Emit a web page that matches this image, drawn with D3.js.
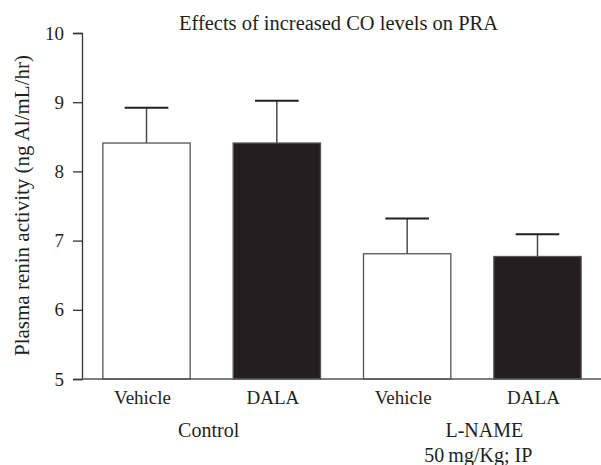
<!DOCTYPE html>
<html>
<head>
<meta charset="utf-8">
<script src="https://cdn.jsdelivr.net/npm/d3@7"></script>
<style>
  body { margin: 0; background: #fff; }
  text { font-family: "Liberation Serif", "Times New Roman", serif; fill: #231f20; }
</style>
</head>
<body>
<div id="chart"></div>
<script>
"use strict";

// data
var bars = ["ctrlVehicle", "ctrlDala", "lnameVehicle", "lnameDala"];
var barLabels = ["Vehicle", "DALA", "Vehicle", "DALA"];
var means = [8.41, 8.41, 6.81, 6.77];
var errTops = [8.92, 9.02, 7.32, 7.09];
var fills = ["#ffffff", "#231f20", "#ffffff", "#231f20"];
var yTicks = [5, 6, 7, 8, 9, 10];

// chart frame
var width = 601, height = 465;
var plotLeft = 82, plotRight = 602, plotTop = 33, plotBottom = 379;

var svg = d3.select("#chart").append("svg")
    .attr("width", width)
    .attr("height", height);

// scales
var x = d3.scaleBand()
    .domain(bars)
    .range([plotLeft, plotRight])
    .paddingInner(0.33)
    .paddingOuter(0.16);

var y = d3.scaleLinear()
    .domain([5, 10])
    .range([plotBottom, plotTop]);

// title
svg.append("text")
    .attr("x", 338.5)
    .attr("y", 30)
    .attr("text-anchor", "middle")
    .attr("textLength", 319)
    .attr("lengthAdjust", "spacingAndGlyphs")
    .style("font-size", "20px")
    .text("Effects of increased CO levels on PRA");

// y axis label
svg.append("text")
    .attr("transform", "translate(29,205.5) rotate(-90)")
    .attr("text-anchor", "middle")
    .attr("textLength", 301)
    .attr("lengthAdjust", "spacingAndGlyphs")
    .style("font-size", "20px")
    .text("Plasma renin activity (ng Al/mL/hr)");

// error bars (drawn first so the bar outline sits on top)
bars.forEach(function (b, i) {
    var cx = x(b) + x.bandwidth() / 2;
    svg.append("line")
        .attr("x1", cx).attr("x2", cx)
        .attr("y1", y(means[i])).attr("y2", y(errTops[i]))
        .attr("stroke", "#4a4a4a")
        .attr("stroke-width", 1.5);
    svg.append("line")
        .attr("x1", cx - x.bandwidth() / 4).attr("x2", cx + x.bandwidth() / 4)
        .attr("y1", y(errTops[i])).attr("y2", y(errTops[i]))
        .attr("stroke", "#231f20")
        .attr("stroke-width", 2);
});

// bars
svg.selectAll("rect.bar")
    .data(bars)
    .enter().append("rect")
    .attr("class", "bar")
    .attr("x", function (d) { return x(d); })
    .attr("width", x.bandwidth())
    .attr("y", function (d, i) { return y(means[i]); })
    .attr("height", function (d, i) { return y(5) - y(means[i]); })
    .attr("fill", function (d, i) { return fills[i]; })
    .attr("stroke", "#555")
    .attr("stroke-width", 1.3);

// y axis
var yAxis = svg.append("g")
    .attr("transform", "translate(" + plotLeft + ",0)")
    .call(d3.axisLeft(y).tickValues(yTicks).tickSize(9).tickPadding(9).tickFormat(d3.format("d")));
yAxis.select(".domain").attr("stroke", "#333").attr("stroke-width", 1.3);
yAxis.selectAll(".tick line").attr("stroke", "#333").attr("stroke-width", 1.3);
yAxis.selectAll(".tick text")
    .style("font-family", "'Liberation Serif', serif")
    .style("font-size", "19px")
    .attr("fill", "#231f20");

// x axis line
svg.append("line")
    .attr("x1", plotLeft).attr("x2", width)
    .attr("y1", plotBottom).attr("y2", plotBottom)
    .attr("stroke", "#555")
    .attr("stroke-width", 1.3);

// bar labels
svg.selectAll("text.barlabel")
    .data(bars)
    .enter().append("text")
    .attr("class", "barlabel")
    .attr("x", function (d) { return x(d) + x.bandwidth() / 2 - 4; })
    .attr("y", 404)
    .attr("text-anchor", "middle")
    .style("font-size", "19px")
    .text(function (d, i) { return barLabels[i]; });

// group labels
svg.append("text")
    .attr("x", (x("ctrlVehicle") + x("ctrlDala") + x.bandwidth()) / 2 - 3)
    .attr("y", 437)
    .attr("text-anchor", "middle")
    .style("font-size", "20px")
    .text("Control");

var lnameX = (x("lnameVehicle") + x("lnameDala") + x.bandwidth()) / 2 + 12;
svg.append("text")
    .attr("x", lnameX)
    .attr("y", 437)
    .attr("text-anchor", "middle")
    .style("font-size", "20px")
    .text("L-NAME");

svg.append("text")
    .attr("x", lnameX - 6)
    .attr("y", 462)
    .attr("text-anchor", "middle")
    .style("font-size", "20px")
    .text("50\u2009mg/Kg; IP");
</script>
</body>
</html>
